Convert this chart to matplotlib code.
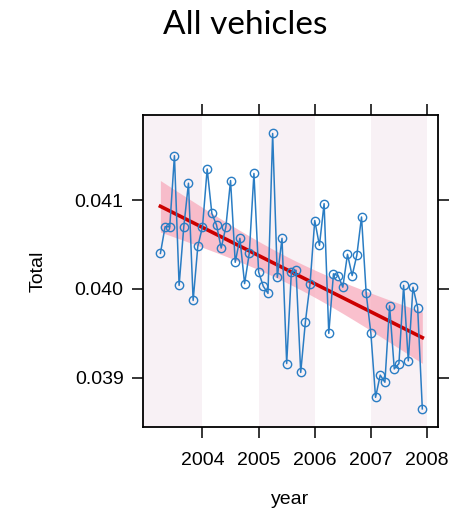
import numpy as np
import matplotlib
matplotlib.use("Agg")
import matplotlib.pyplot as plt

# ---- data ----
start_year = 2003.25  # April 2003, monthly observations
total = [0.04040, 0.04070, 0.04070, 0.04150, 0.04004, 0.04070, 0.04119, 0.03987,
         0.04048, 0.04070, 0.04135, 0.04085, 0.04072, 0.04046, 0.04070, 0.04122,
         0.04030, 0.04057, 0.04006, 0.04040, 0.04130, 0.04019, 0.04003, 0.03995,
         0.04175, 0.04013, 0.04057, 0.03916, 0.04019, 0.04021, 0.03906, 0.03963,
         0.04006, 0.04077, 0.04049, 0.04096, 0.03950, 0.04017, 0.04015, 0.04002,
         0.04039, 0.04015, 0.04038, 0.04081, 0.03995, 0.03950, 0.03878, 0.03903,
         0.03895, 0.03981, 0.03910, 0.03916, 0.04004, 0.03919, 0.04002, 0.03979,
         0.03865]
x_ticks = [2004, 2005, 2006, 2007, 2008]
y_ticks = [0.039, 0.040, 0.041]
y_ticklabels = ["0.039", "0.040", "0.041"]
band_years = [(2002.0, 2004), (2005, 2006), (2007, 2008)]
title = "All vehicles"

y = np.array(total)
x = start_year + np.arange(len(y)) / 12.0

# linear fit with 95% CI
n = len(x)
b, a = np.polyfit(x, y, 1)
res = y - (a + b * x)
s = np.sqrt(np.sum(res ** 2) / (n - 2))
xbar = x.mean()
sxx = np.sum((x - xbar) ** 2)
xf = np.linspace(x.min(), x.max(), 100)
yf = a + b * xf
se = s * np.sqrt(1.0 / n + (xf - xbar) ** 2 / sxx)
tval = 2.004
lo, hi = yf - tval * se, yf + tval * se

plt.rcParams['font.family'] = ['Liberation Sans', 'DejaVu Sans']

fig = plt.figure(figsize=(4.5, 5.13), dpi=100)
ax = fig.add_axes([143 / 450, 1 - 427 / 513, 295 / 450, 312 / 513])

xlim = (2002.94, 2008.196)
ylim = (0.038446, 0.041958)
ax.set_xlim(*xlim)
ax.set_ylim(*ylim)

for (x0, x1) in band_years:
    ax.axvspan(max(x0, xlim[0]), x1, color='#f8f1f5', lw=0, zorder=0)

ax.fill_between(xf, lo, hi, color='#f7a6b8', alpha=0.7, lw=0, zorder=1)
ax.plot(xf, yf, color='#cc0000', lw=2.6, zorder=2)
ax.plot(x, y, color='#2a7dc4', lw=1.1, marker='o', ms=6, mfc='none',
        mec='#2a7dc4', mew=1.0, zorder=3)

ax.set_xticks(x_ticks)
ax.set_yticks(y_ticks)
ax.set_yticklabels(y_ticklabels)
ax.tick_params(axis='both', which='both', direction='out', length=8, width=1.1,
               labelsize=14, top=True, right=True, labeltop=False, labelright=False,
               colors='black')
ax.tick_params(axis='x', pad=10)
ax.tick_params(axis='y', pad=6)
for sp in ax.spines.values():
    sp.set_linewidth(1.3)

ax.set_xlabel("year", fontsize=14, labelpad=16)
ax.set_ylabel("Total", fontsize=14, labelpad=20)

fig.text(245 / 450, 1 - 25 / 513, title, ha='center', va='center',
         fontsize=24, family=['Lato', 'DejaVu Sans'])

fig.savefig("out.png", dpi=100)
